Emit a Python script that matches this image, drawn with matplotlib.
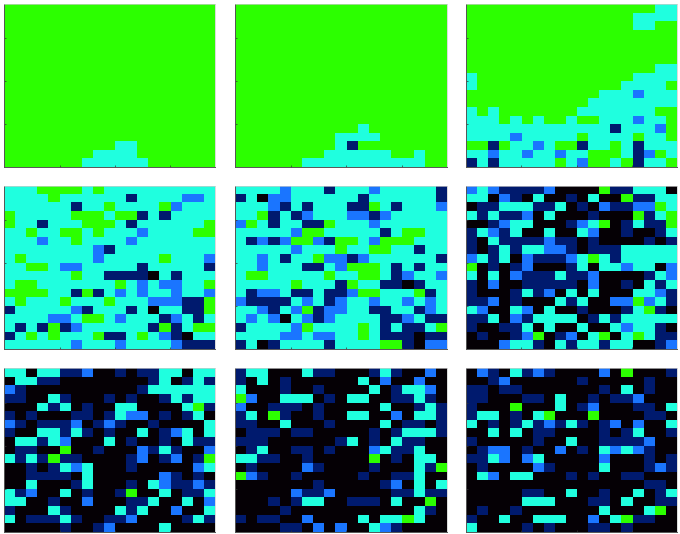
import numpy as np
import matplotlib
matplotlib.use("Agg")
import matplotlib.pyplot as plt
from matplotlib.colors import ListedColormap

# cell states, one string per row, top row first
# 0 black, 1 navy, 2 blue, 3 cyan, 4 green
GREEN_ROW = "4444444444444444444"

panel_1 = [GREEN_ROW] * 16 + [
    "4444444444334444444",
    "4444444433334444444",
    "4444444333333444444",
]

panel_2 = [GREEN_ROW] * 14 + [
    "4444444444434444444",
    "4444444443333444444",
    "4444444443144444444",
    "4444444433333344344",
    "4444443333333333344",
]

panel_3 = [
    "4444444444444444433",
    "4444444444444443333",
    "4444444444444443344",
    GREEN_ROW,
    GREEN_ROW,
    GREEN_ROW,
    GREEN_ROW,
    "4444444444444444433",
    "3444444444444443333",
    "3444444444444433334",
    "4444444444443332333",
    "4444444444433333333",
    "3434444444333333344",
    "3334343443443332334",
    "3333333333333133324",
    "3333233333433334334",
    "4414332344133431333",
    "3323323323344431243",
    "1313333343244341334",
]

panel_4 = [
    "3334444343333333333",
    "3333433333313333223",
    "3333331334333342333",
    "4333334443441313333",
    "4331333444313333334",
    "3343344343332333344",
    "3332334333323333333",
    "3333333321333333333",
    "3433333323333343332",
    "3344322333331333331",
    "3333334331111031333",
    "3443333333432322334",
    "4444331413232332332",
    "3433343334333222114",
    "1333332133313033114",
    "3333223443233312313",
    "3131412333333141344",
    "1343433341134321033",
    "3333332333233332111",
]

panel_5 = [
    "3333233313332333331",
    "1302233333313333331",
    "3332131333114313332",
    "3341312333221233333",
    "2431331143332333333",
    "3333324433333134433",
    "3121244214432444333",
    "3333323334334433133",
    "3323133422123333331",
    "3323331132444313133",
    "3443333343344312332",
    "3333343331433110133",
    "3122311311244333413",
    "2111132312332332323",
    "3321324122331133123",
    "3232032123333112311",
    "1333324333343131134",
    "3333223223343111011",
    "1301333313333441022",
]

panel_6 = [
    "2321111200004113330",
    "3302103001030041133",
    "0113331130102112243",
    "3131120300010004134",
    "0012330001234013114",
    "1321300300320010013",
    "1031111211010000101",
    "1013133221011133333",
    "2313021112343133333",
    "4010120001303323302",
    "3030211131120000132",
    "1020011111020010313",
    "1000131203030003321",
    "1120100031300224231",
    "3200320300100013410",
    "1130213333013133333",
    "1001130300300323310",
    "0100124012034034311",
    "0002331031331330012",
]

panel_7 = [
    "3303311200101133033",
    "0331100000000130131",
    "2100000000001333333",
    "1100310001010013133",
    "0003130100330000341",
    "1010001101322010130",
    "2101112012100100003",
    "1003313101003012303",
    "0331320003010010311",
    "0110040010002131002",
    "3131411000012012014",
    "0010132300010000023",
    "0011110300000021010",
    "0030001300010321121",
    "3120030100140030113",
    "3300100200011300302",
    "1000310000313002003",
    "3011131001120000131",
    "0000010012000030000",
]

panel_8 = [
    "1330003110001310020",
    "1030100000030200200",
    "3000100100003013320",
    "4200333010330011310",
    "2001110100000300131",
    "1304100100330020331",
    "1100300010000301101",
    "0111011000001013331",
    "1110000001301031100",
    "0130011010002311300",
    "3311001000004010330",
    "0100002100001000314",
    "4210010000010011300",
    "0000000100000120303",
    "0000021120000011311",
    "0001013300111030040",
    "0000100000000000310",
    "1011002000030334300",
    "0000110202003210000",
]

panel_9 = [
    "0210312100002040001",
    "0012000000100000100",
    "1101100000001030100",
    "1100011030010112000",
    "1000400030120001103",
    "1330103400040000110",
    "3010131213101202003",
    "0030301100001013001",
    "1000001003001111200",
    "0122010020103232100",
    "1132023000002000101",
    "0100002100003000121",
    "0320330001010011000",
    "0000000000000000110",
    "0000011003001003013",
    "0000033300011030011",
    "0100100000003000340",
    "1003003330020341100",
    "3000010100011010000",
]

panels = [panel_1, panel_2, panel_3, panel_4, panel_5, panel_6, panel_7, panel_8, panel_9]
colors = ["#050005", "#001a6e", "#1a75ff", "#1fffdf", "#2cff00"]

# pixel edges of the grid columns and rows
W, H = 680, 534
x_edges = [(4.3, 214.6), (235, 446.6), (466, 676.6)]
y_edges = [(4, 166.6), (186, 349.3), (368.3, 532.3)]

cmap = ListedColormap(colors)
fig = plt.figure(figsize=(W / 100, H / 100), dpi=100)

for i, rows in enumerate(panels):
    x0, x1 = x_edges[i % 3]
    y0, y1 = y_edges[i // 3]
    ax = fig.add_axes([x0 / W, 1 - y1 / H, (x1 - x0) / W, (y1 - y0) / H])
    grid = np.array([[int(c) for c in row] for row in rows])
    ax.imshow(grid, cmap=cmap, vmin=0, vmax=4, extent=[0, 19, 0, 19],
              origin="upper", aspect="auto", interpolation="nearest")
    ax.set_xticks([5, 10, 15])
    ax.set_yticks([5, 10, 15])
    ax.tick_params(direction="in", length=1.5, width=0.5, color="#333333",
                   labelbottom=False, labelleft=False)
    for side in ["left", "bottom"]:
        ax.spines[side].set_color("#555555")
        ax.spines[side].set_linewidth(0.7)
    for side in ["top", "right"]:
        ax.spines[side].set_color("#cccccc")
        ax.spines[side].set_linewidth(0.5)

fig.savefig("out.png", dpi=100)
